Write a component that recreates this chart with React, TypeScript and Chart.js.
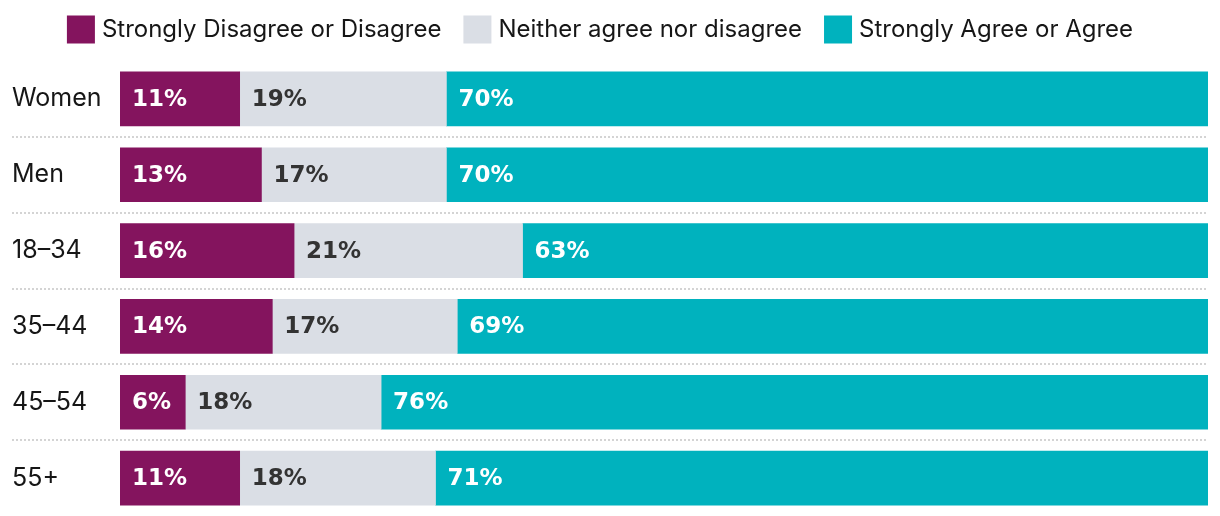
import React, { useEffect, useRef } from "react";
import { Chart, registerables } from "chart.js";

Chart.register(...registerables);

const categories = ["Women", "Men", "18–34", "35–44", "45–54", "55+"];
const seriesNames = ["Strongly Disagree or Disagree", "Neither agree nor disagree", "Strongly Agree or Agree"];
const disagree = [11, 13, 16, 14, 6, 11];
const neither = [19, 17, 21, 17, 18, 18];
const agree = [70, 70, 63, 69, 76, 71];

const COLORS = ["#84145E", "#DADEE5", "#00B2BE"];
const LABEL_COLORS = ["#FFFFFF", "#333333", "#FFFFFF"];
const FONT = "Inter, 'Open Sans', sans-serif";
const VALUE_FONT = "'DejaVu Sans', Inter, sans-serif";

const legendPlugin = {
  id: "customLegend",
  afterDraw(chart: any) {
    const ctx = chart.ctx;
    ctx.save();
    ctx.font = `400 24px ${FONT}`;
    ctx.textBaseline = "middle";
    const box = 28;
    const gapBoxText = 7;
    const gapItems = 22;
    const items = chart.data.datasets.map((d: any) => ({
      label: d.label,
      color: d.backgroundColor,
      w: ctx.measureText(d.label).width,
    }));
    const total = items.reduce((s: number, it: any) => s + box + gapBoxText + it.w, 0) + gapItems * (items.length - 1);
    let x = (chart.width - total) / 2 - 10;
    const cy = 29.5;
    for (const it of items) {
      ctx.fillStyle = it.color;
      ctx.fillRect(x, cy - box / 2, box, box);
      ctx.fillStyle = "#161616";
      ctx.textAlign = "left";
      ctx.fillText(it.label, x + box + gapBoxText, cy);
      x += box + gapBoxText + it.w + gapItems;
    }
    ctx.restore();
  },
};

const separatorPlugin = {
  id: "separators",
  beforeDatasetsDraw(chart: any) {
    const ctx = chart.ctx;
    const y = chart.scales.y;
    ctx.save();
    ctx.strokeStyle = "#D4D4D4";
    ctx.lineWidth = 2;
    ctx.setLineDash([2, 2]);
    for (let i = 0; i < categories.length - 1; i++) {
      const py = Math.round((y.getPixelForValue(i) + y.getPixelForValue(i + 1)) / 2);
      ctx.beginPath();
      ctx.moveTo(12, py);
      ctx.lineTo(chart.chartArea.right, py);
      ctx.stroke();
    }
    ctx.restore();
  },
};

const valueLabelPlugin = {
  id: "valueLabels",
  afterDatasetsDraw(chart: any) {
    const ctx = chart.ctx;
    ctx.save();
    ctx.font = `700 23px ${VALUE_FONT}`;
    ctx.textBaseline = "middle";
    ctx.textAlign = "left";
    chart.data.datasets.forEach((ds: any, di: number) => {
      const meta = chart.getDatasetMeta(di);
      meta.data.forEach((bar: any, i: number) => {
        const left = Math.min(bar.x, bar.base);
        ctx.fillStyle = LABEL_COLORS[di];
        ctx.fillText(`${ds.data[i]}%`, left + 12, bar.y + 1);
      });
    });
    ctx.restore();
  },
};

export default function App() {
  const ref = useRef<HTMLCanvasElement>(null);
  useEffect(() => {
    if (!ref.current) return;
    const chart = new Chart(ref.current, {
      type: "bar",
      data: {
        labels: categories,
        datasets: [disagree, neither, agree].map((d, i) => ({
          label: seriesNames[i],
          data: d,
          backgroundColor: COLORS[i],
          borderWidth: 0,
          barThickness: 54,
        })),
      },
      options: {
        indexAxis: "y",
        responsive: false,
        animation: false,
        layout: { padding: { top: 61, right: 12, left: 12, bottom: 0 } },
        plugins: { legend: { display: false }, tooltip: { enabled: false } },
        scales: {
          x: { stacked: true, min: 0, max: 100, display: false },
          y: {
            stacked: true,
            grid: { display: false },
            border: { display: false },
            afterFit: (s: any) => {
              s.width = 108;
              s.paddingTop = 0;
              s.paddingBottom = 0;
            },
            ticks: {
              crossAlign: "far",
              color: "#161616",
              font: { family: FONT, size: 25 },
            },
          },
        },
      },
      plugins: [legendPlugin, separatorPlugin, valueLabelPlugin],
    });
    return () => chart.destroy();
  }, []);
  return (
    <div style={{ position: "absolute", left: 0, top: 0, width: 1220, height: 516, background: "#fff" }}>
      <canvas ref={ref} width={1220} height={516} style={{ width: 1220, height: 516 }} />
    </div>
  );
}
